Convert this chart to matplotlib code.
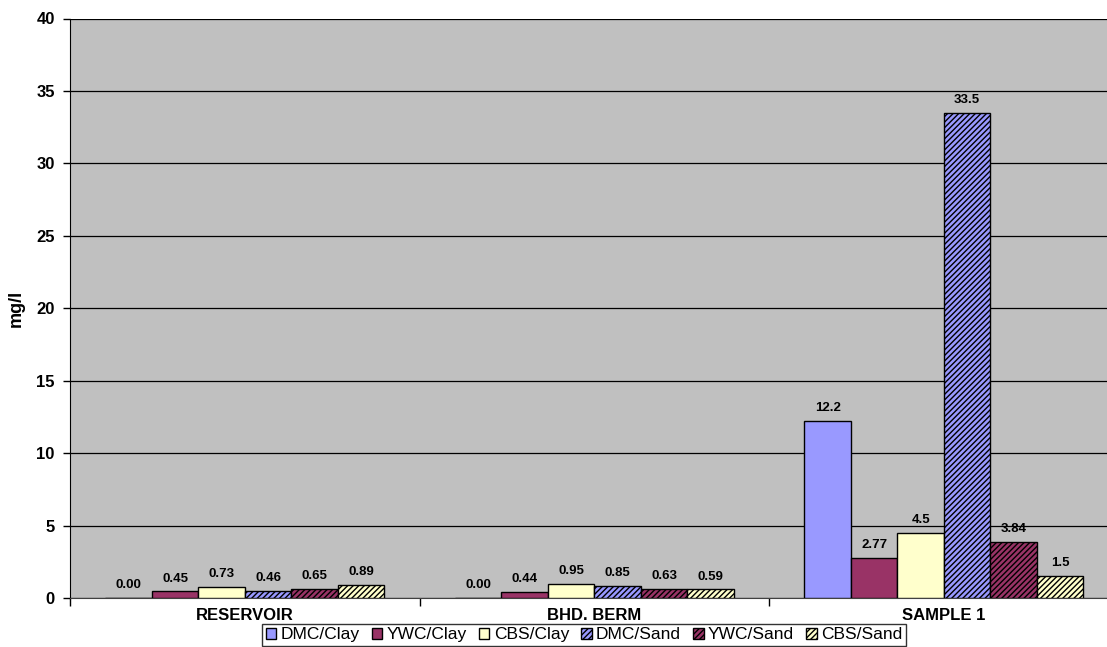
import numpy as np
import matplotlib.pyplot as plt
from matplotlib.ticker import FixedLocator

plt.rcParams['font.family'] = ['Liberation Sans', 'DejaVu Sans']
plt.rcParams['hatch.linewidth'] = 1.0

categories = ['RESERVOIR', 'BHD. BERM', 'SAMPLE 1']
series = ['DMC/Clay', 'YWC/Clay', 'CBS/Clay', 'DMC/Sand', 'YWC/Sand', 'CBS/Sand']
values = [
    [0.00, 0.00, 12.2],   # DMC/Clay
    [0.45, 0.44, 2.77],   # YWC/Clay
    [0.73, 0.95, 4.5],    # CBS/Clay
    [0.46, 0.85, 33.5],   # DMC/Sand
    [0.65, 0.63, 3.84],   # YWC/Sand
    [0.89, 0.59, 1.5],    # CBS/Sand
]
labels = [
    ['0.00', '0.00', '12.2'],
    ['0.45', '0.44', '2.77'],
    ['0.73', '0.95', '4.5'],
    ['0.46', '0.85', '33.5'],
    ['0.65', '0.63', '3.84'],
    ['0.89', '0.59', '1.5'],
]
colors = ['#9999FF', '#993366', '#FFFFCC', '#9999FF', '#993366', '#FFFFCC']
hatches = [None, None, None, '//////', '//////', '//////']

W, H = 1107, 647
fig = plt.figure(figsize=(W / 100, H / 100), dpi=100)
# plot area runs past the right edge of the image, like the original
left, right, top, bottom = 70, 1118.6, 18.5, 598
ax = fig.add_axes([left / W, 1 - bottom / H, (right - left) / W, (bottom - top) / H])
ax.set_facecolor('#C0C0C0')

x = np.arange(len(categories))
bw = 0.133
for i, s in enumerate(series):
    pos = x - 3 * bw + bw / 2 + i * bw
    bars = ax.bar(pos, values[i], bw, color=colors[i], edgecolor='black',
                  linewidth=1.0, hatch=hatches[i], label=s, zorder=3)
    for b, t in zip(bars, labels[i]):
        ax.annotate(t, (b.get_x() + b.get_width() / 2, b.get_height()),
                    xytext=(0, 5), textcoords='offset points', ha='center',
                    va='bottom', fontsize=9.5, fontweight='bold', zorder=4)

ax.set_xlim(-0.5, 2.5)
ax.set_ylim(0, 40)
ax.set_yticks(range(0, 41, 5))
ax.yaxis.grid(True, color='black', linewidth=0.9, zorder=1)
ax.set_axisbelow(True)
ax.set_xticks(x)
ax.set_xticklabels(categories, fontsize=12, fontweight='bold')
ax.xaxis.set_minor_locator(FixedLocator([-0.5, 0.5, 1.5, 2.5]))
ax.tick_params(axis='x', which='major', length=0, pad=7)
ax.tick_params(axis='x', which='minor', length=6, width=1, direction='out')
ax.tick_params(axis='y', length=5, width=1, direction='out', labelsize=12, pad=6)
for lab in ax.get_yticklabels():
    lab.set_fontweight('bold')
ax.set_ylabel('mg/l', fontsize=13, fontweight='bold', labelpad=8)

for sp in ['top', 'right']:
    ax.spines[sp].set_visible(False)
ax.spines['left'].set_color('black')
ax.spines['bottom'].set_color('#404040')

leg = fig.legend(loc='upper center', bbox_to_anchor=(584 / W, 1 - 624 / H), ncol=6,
                 fontsize=12.5, frameon=True, fancybox=False, handlelength=0.6,
                 handleheight=0.6, handletextpad=0.25, columnspacing=0.7,
                 borderpad=0.2, borderaxespad=0)
leg.get_frame().set_edgecolor('black')
leg.get_frame().set_linewidth(1.0)

fig.savefig('out.png', dpi=100)
